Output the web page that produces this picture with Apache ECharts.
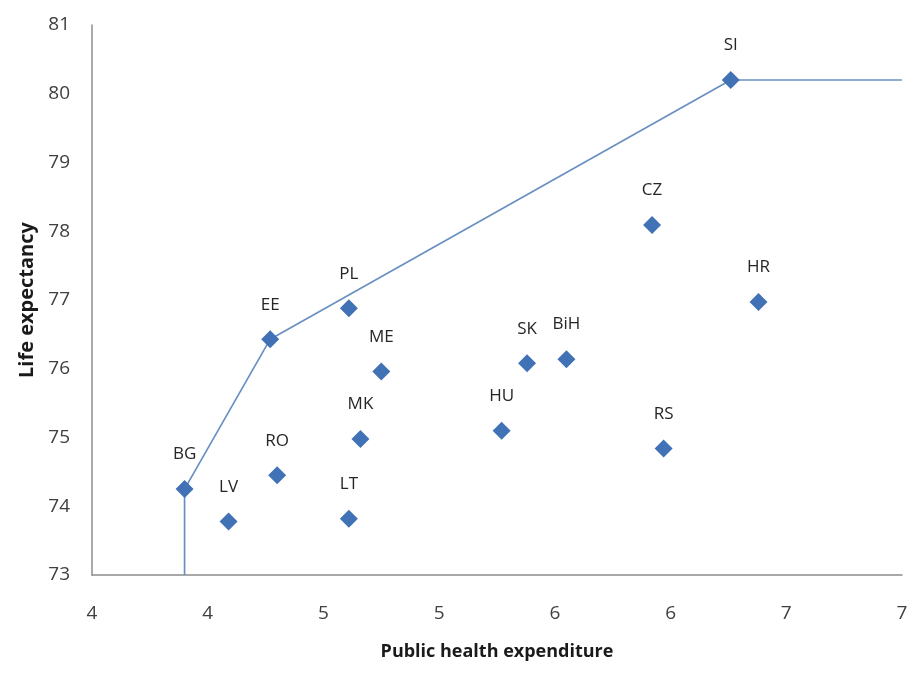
<!DOCTYPE html>
<html>
<head>
<meta charset="utf-8">
<script src="https://cdn.jsdelivr.net/npm/echarts@6/dist/echarts.min.js"></script>
<style>
  html, body { margin: 0; padding: 0; background: #fff; }
  #chart { width: 911px; height: 685px; }
</style>
</head>
<body>
<div id="chart"></div>
<script>
// Country codes and values
const countries = ['BG','LV','RO','EE','PL','ME','MK','LT','HU','SK','BiH','RS','CZ','HR','SI'];
const expenditure = [3.90, 4.09, 4.30, 4.27, 4.61, 4.75, 4.66, 4.61, 5.27, 5.38, 5.55, 5.97, 5.92, 6.38, 6.26];
const lifeExpectancy = [74.25, 73.78, 74.45, 76.43, 76.88, 75.96, 74.98, 73.82, 75.10, 76.08, 76.14, 74.84, 78.09, 76.97, 80.20];

// Efficiency frontier line
const frontierX = [3.90, 3.90, 4.27, 6.26, 7.00];
const frontierY = [73.00, 74.25, 76.43, 80.20, 80.20];

// Axis tick labels as displayed (rounded values of 3.5 .. 7.0 step 0.5)
const xTickLabels = ['4', '4', '5', '5', '6', '6', '7', '7'];
const yTickLabels = ['73', '74', '75', '76', '77', '78', '79', '80', '81'];

const xMin = 3.5, xMax = 7.0, xStep = 0.5;
const yMin = 73, yMax = 81, yStep = 1;

const points = countries.map((c, i) => ({ name: c, value: [expenditure[i], lifeExpectancy[i]] }));
const frontier = frontierX.map((x, i) => [x, frontierY[i]]);

const FONT = 'Open Sans';
const chart = echarts.init(document.getElementById('chart'));
chart.setOption({
  backgroundColor: '#ffffff',
  animation: false,
  grid: { left: 92, right: 9, top: 25, bottom: 110 },
  xAxis: {
    type: 'value',
    min: xMin, max: xMax, interval: xStep,
    name: 'Public health expenditure',
    nameLocation: 'middle',
    nameGap: 68,
    nameTextStyle: { fontFamily: FONT, fontSize: 18, fontWeight: 'bold', color: '#1a1a1a' },
    axisLine: { show: true, lineStyle: { color: '#8c8c8c', width: 1.5 } },
    axisTick: { show: false },
    splitLine: { show: false },
    axisLabel: {
      margin: 29,
      fontFamily: FONT, fontSize: 19, color: '#404040',
      formatter: v => xTickLabels[Math.round((v - xMin) / xStep)]
    }
  },
  yAxis: {
    type: 'value',
    min: yMin, max: yMax, interval: yStep,
    name: 'Life expectancy',
    nameLocation: 'middle',
    nameGap: 53,
    nameTextStyle: { fontFamily: FONT, fontSize: 20, fontWeight: 'bold', color: '#1a1a1a' },
    axisLine: { show: true, lineStyle: { color: '#8c8c8c', width: 1.5 } },
    axisTick: { show: false },
    splitLine: { show: false },
    axisLabel: {
      margin: 22,
      fontFamily: FONT, fontSize: 19, color: '#404040',
      formatter: v => yTickLabels[Math.round((v - yMin) / yStep)]
    }
  },
  series: [
    {
      type: 'line',
      data: frontier,
      symbol: 'none',
      lineStyle: { color: '#6a90c2', width: 1.7 },
      z: 1
    },
    {
      type: 'scatter',
      data: points,
      symbol: 'diamond',
      symbolSize: [18, 18],
      itemStyle: { color: '#4172b6', opacity: 1 },
      label: {
        show: true,
        position: 'top',
        distance: 17,
        formatter: p => p.name,
        fontFamily: FONT, fontSize: 17, color: '#262626'
      },
      z: 2
    }
  ]
});
</script>
</body>
</html>
